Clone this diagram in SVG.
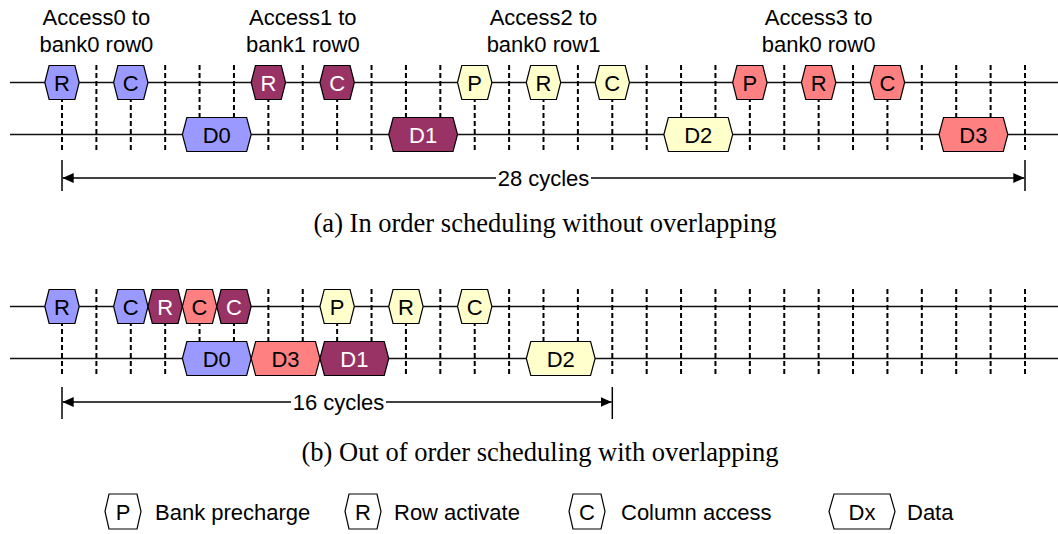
<svg xmlns="http://www.w3.org/2000/svg" xmlns:xlink="http://www.w3.org/1999/xlink" width="1058" height="534" viewBox="0 0 1058 534">
  <style>
    .lbl { font-family: "Liberation Sans", Arial, sans-serif; font-size: 22px; fill: #000; text-anchor: middle; }
    .hx { font-family: "Liberation Sans", Arial, sans-serif; font-size: 22px; fill: #000; text-anchor: middle; }
    .hx.w { fill: #fff; }
    .lg { font-family: "Liberation Sans", Arial, sans-serif; font-size: 22px; fill: #000; }
    .cap { font-family: "Liberation Serif", "Times New Roman", serif; font-size: 26.5px; fill: #000; text-anchor: middle; }
    .tl { stroke: #111; stroke-width: 1.5; fill: none; }
    .grid { stroke: #000; stroke-width: 2; stroke-dasharray: 5 3; fill: none; }
    .dim { stroke: #000; stroke-width: 1.3; fill: none; }
    .tick { stroke: #000; stroke-width: 1.5; }
    .blue { fill: #9999FF; stroke: #000; stroke-width: 1.2; }
    .purple { fill: #993366; stroke: #000; stroke-width: 1.2; }
    .yellow { fill: #FFFFCC; stroke: #000; stroke-width: 1.2; }
    .red { fill: #FF8080; stroke: #000; stroke-width: 1.2; }
    .key { fill: #fff; stroke: #000; stroke-width: 1.2; }
  </style>
  <defs>
    <!-- one-cycle command token and two-cycle data token, centred on origin -->
    <path id="cmd" d="M-17.2,0 L-12.9,-17 L12.9,-17 L17.2,0 L12.9,17 L-12.9,17 Z"/>
    <path id="dat" d="M-34.4,0 L-29.9,-17 L29.9,-17 L34.4,0 L29.9,17 L-29.9,17 Z"/>
    <path id="keycmd" d="M-18,0 L-14,-17.5 L14,-17.5 L18,0 L14,17.5 L-14,17.5 Z"/>
    <path id="keydat" d="M-33,0 L-28,-17.5 L28,-17.5 L33,0 L28,17.5 L-28,17.5 Z"/>
    <marker id="ah" markerUnits="userSpaceOnUse" markerWidth="11" markerHeight="10" refX="11" refY="5" orient="auto">
      <path d="M0,0 L11,5 L0,10 Z" fill="#000"/>
    </marker>
  </defs>

  <rect width="1058" height="534" fill="#fff"/>

  <!-- access labels for the in-order schedule -->
  <g id="access-labels">
    <text class="lbl" x="96.4" y="25">Access0 to</text>
    <text class="lbl" x="96.4" y="52">bank0 row0</text>
    <text class="lbl" x="302.8" y="25">Access1 to</text>
    <text class="lbl" x="302.8" y="52">bank1 row0</text>
    <text class="lbl" x="543.5" y="25">Access2 to</text>
    <text class="lbl" x="543.5" y="52">bank0 row1</text>
    <text class="lbl" x="818.6" y="25">Access3 to</text>
    <text class="lbl" x="818.6" y="52">bank0 row0</text>
  </g>

  <!-- timelines, cycle markers and cycle-count dimensions -->
  <g id="connectors">
    <line class="tl" x1="10" y1="82.5" x2="1058" y2="82.5"/>
    <line class="tl" x1="10" y1="134.5" x2="1058" y2="134.5"/>
    <line class="tl" x1="10" y1="306.5" x2="1058" y2="306.5"/>
    <line class="tl" x1="10" y1="358.5" x2="1058" y2="358.5"/>

    <path class="grid" d="M62,65V152 M96.39,65V152 M130.79,65V152 M165.18,65V152 M199.57,65V152 M233.96,65V152 M268.36,65V152 M302.75,65V152 M337.14,65V152 M371.54,65V152 M405.93,65V152 M440.32,65V152 M474.71,65V152 M509.11,65V152 M543.5,65V152 M577.89,65V152 M612.29,65V152 M646.68,65V152 M681.07,65V152 M715.46,65V152 M749.86,65V152 M784.25,65V152 M818.64,65V152 M853.04,65V152 M887.43,65V152 M921.82,65V152 M956.21,65V152 M990.61,65V152 M1025,65V152"/>
    <path class="grid" d="M62,289V376 M96.39,289V376 M130.79,289V376 M165.18,289V376 M199.57,289V376 M233.96,289V376 M268.36,289V376 M302.75,289V376 M337.14,289V376 M371.54,289V376 M405.93,289V376 M440.32,289V376 M474.71,289V376 M509.11,289V376 M543.5,289V376 M577.89,289V376 M612.29,289V376 M646.68,289V376 M681.07,289V376 M715.46,289V376 M749.86,289V376 M784.25,289V376 M818.64,289V376 M853.04,289V376 M887.43,289V376 M921.82,289V376 M956.21,289V376 M990.61,289V376 M1025,289V376"/>

    <!-- 28 cycles -->
    <line class="tick" x1="62" y1="160" x2="62" y2="191"/>
    <line class="tick" x1="1025" y1="160" x2="1025" y2="191"/>
    <line class="dim" x1="496" y1="178" x2="62.7" y2="178" marker-end="url(#ah)"/>
    <line class="dim" x1="591" y1="178" x2="1024.3" y2="178" marker-end="url(#ah)"/>
    <!-- 16 cycles -->
    <line class="tick" x1="62" y1="387" x2="62" y2="419"/>
    <line class="tick" x1="612.3" y1="387" x2="612.3" y2="419"/>
    <line class="dim" x1="291" y1="402" x2="62.7" y2="402" marker-end="url(#ah)"/>
    <line class="dim" x1="386" y1="402" x2="611.6" y2="402" marker-end="url(#ah)"/>
  </g>

  <g id="dim-labels">
    <text class="lbl" x="543.5" y="186">28 cycles</text>
    <text class="lbl" x="338.5" y="410">16 cycles</text>
  </g>

  <!-- (a) in-order commands -->
  <g id="a-acc0-r"><use href="#cmd" class="blue" x="62" y="82.5"/><text class="hx" x="62" y="90.5">R</text></g>
  <g id="a-acc0-c"><use href="#cmd" class="blue" x="130.79" y="82.5"/><text class="hx" x="130.79" y="90.5">C</text></g>
  <g id="a-acc0-d"><use href="#dat" class="blue" x="216.77" y="134.5"/><text class="hx" x="216.77" y="142.5">D0</text></g>
  <g id="a-acc1-r"><use href="#cmd" class="purple" x="268.36" y="82.5"/><text class="hx w" x="268.36" y="90.5">R</text></g>
  <g id="a-acc1-c"><use href="#cmd" class="purple" x="337.14" y="82.5"/><text class="hx w" x="337.14" y="90.5">C</text></g>
  <g id="a-acc1-d"><use href="#dat" class="purple" x="423.13" y="134.5"/><text class="hx w" x="423.13" y="142.5">D1</text></g>
  <g id="a-acc2-p"><use href="#cmd" class="yellow" x="474.71" y="82.5"/><text class="hx" x="474.71" y="90.5">P</text></g>
  <g id="a-acc2-r"><use href="#cmd" class="yellow" x="543.5" y="82.5"/><text class="hx" x="543.5" y="90.5">R</text></g>
  <g id="a-acc2-c"><use href="#cmd" class="yellow" x="612.29" y="82.5"/><text class="hx" x="612.29" y="90.5">C</text></g>
  <g id="a-acc2-d"><use href="#dat" class="yellow" x="698.27" y="134.5"/><text class="hx" x="698.27" y="142.5">D2</text></g>
  <g id="a-acc3-p"><use href="#cmd" class="red" x="749.86" y="82.5"/><text class="hx" x="749.86" y="90.5">P</text></g>
  <g id="a-acc3-r"><use href="#cmd" class="red" x="818.64" y="82.5"/><text class="hx" x="818.64" y="90.5">R</text></g>
  <g id="a-acc3-c"><use href="#cmd" class="red" x="887.43" y="82.5"/><text class="hx" x="887.43" y="90.5">C</text></g>
  <g id="a-acc3-d"><use href="#dat" class="red" x="973.41" y="134.5"/><text class="hx" x="973.41" y="142.5">D3</text></g>

  <text class="cap" x="545" y="232">(a) In order scheduling without overlapping</text>

  <!-- (b) out-of-order commands -->
  <g id="b-acc0-r"><use href="#cmd" class="blue" x="62" y="306.5"/><text class="hx" x="62" y="314.5">R</text></g>
  <g id="b-acc0-c"><use href="#cmd" class="blue" x="130.79" y="306.5"/><text class="hx" x="130.79" y="314.5">C</text></g>
  <g id="b-acc1-r"><use href="#cmd" class="purple" x="165.18" y="306.5"/><text class="hx w" x="165.18" y="314.5">R</text></g>
  <g id="b-acc3-c"><use href="#cmd" class="red" x="199.57" y="306.5"/><text class="hx" x="199.57" y="314.5">C</text></g>
  <g id="b-acc1-c"><use href="#cmd" class="purple" x="233.96" y="306.5"/><text class="hx w" x="233.96" y="314.5">C</text></g>
  <g id="b-acc2-p"><use href="#cmd" class="yellow" x="337.14" y="306.5"/><text class="hx" x="337.14" y="314.5">P</text></g>
  <g id="b-acc2-r"><use href="#cmd" class="yellow" x="405.93" y="306.5"/><text class="hx" x="405.93" y="314.5">R</text></g>
  <g id="b-acc2-c"><use href="#cmd" class="yellow" x="474.71" y="306.5"/><text class="hx" x="474.71" y="314.5">C</text></g>
  <g id="b-acc0-d"><use href="#dat" class="blue" x="216.77" y="358.5"/><text class="hx" x="216.77" y="366.5">D0</text></g>
  <g id="b-acc3-d"><use href="#dat" class="red" x="285.55" y="358.5"/><text class="hx" x="285.55" y="366.5">D3</text></g>
  <g id="b-acc1-d"><use href="#dat" class="purple" x="354.34" y="358.5"/><text class="hx w" x="354.34" y="366.5">D1</text></g>
  <g id="b-acc2-d"><use href="#dat" class="yellow" x="560.7" y="358.5"/><text class="hx" x="560.7" y="366.5">D2</text></g>

  <text class="cap" x="540" y="461">(b) Out of order scheduling with overlapping</text>

  <!-- legend -->
  <g id="key-p"><use href="#keycmd" class="key" x="123" y="511.5"/><text class="hx" x="123" y="519.5">P</text><text class="lg" x="155" y="519.5">Bank precharge</text></g>
  <g id="key-r"><use href="#keycmd" class="key" x="363" y="511.5"/><text class="hx" x="363" y="519.5">R</text><text class="lg" x="394" y="519.5">Row activate</text></g>
  <g id="key-c"><use href="#keycmd" class="key" x="587" y="511.5"/><text class="hx" x="587" y="519.5">C</text><text class="lg" x="621" y="519.5">Column access</text></g>
  <g id="key-d"><use href="#keydat" class="key" x="862" y="511.5"/><text class="hx" x="862" y="519.5">Dx</text><text class="lg" x="907" y="519.5">Data</text></g>
</svg>
